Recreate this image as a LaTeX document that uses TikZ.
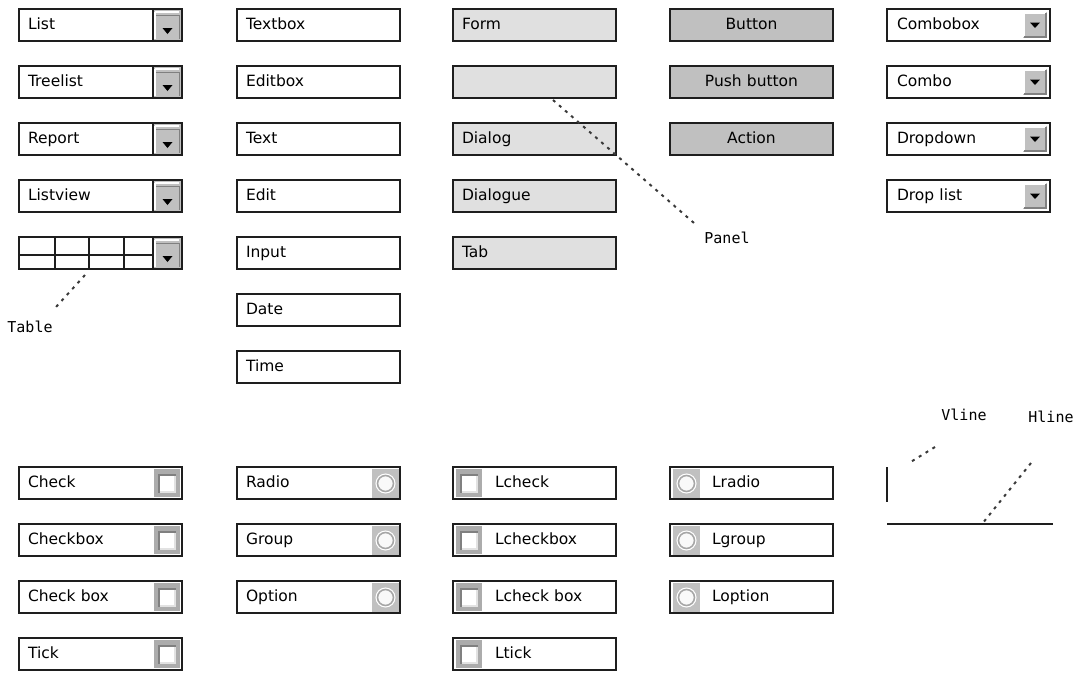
\documentclass[tikz,border=0pt]{standalone}
\usepackage{fontspec}
\setmainfont{DejaVu Sans}
\newfontfamily\lblfont{DejaVu Sans Mono}
\usetikzlibrary{calc}
\definecolor{bordc}{HTML}{1E1E1E}
\definecolor{formgray}{HTML}{E0E0E0}
\definecolor{btngray}{HTML}{C0C0C0}
\definecolor{iconouter}{HTML}{ACACAC}
\definecolor{icondark}{HTML}{808080}
\definecolor{iconlight}{HTML}{E2E2E2}
\definecolor{dashc}{HTML}{3A3A3A}
\tikzset{
  box/.style={rectangle, draw=bordc, line width=1.6pt, fill=white,
    minimum width=163pt, minimum height=32pt, anchor=north west, outer sep=0pt,
    inner xsep=9pt, inner ysep=0pt, text width=145pt, align=left,
    font=\fontsize{15.5}{18}\selectfont, text height=11pt, text depth=3pt},
  lbox/.style={box, execute at begin node={\hspace*{33pt}}},
  formbox/.style={box, fill=formgray},
  btnbox/.style={box, fill=btngray, align=center},
  lbl/.style={font=\lblfont\fontsize{15}{18}\selectfont, inner sep=0pt},
  dashline/.style={draw=dashc, line width=2pt, dash pattern=on 3pt off 5pt},
  solidline/.style={draw=bordc, line width=1.6pt},
}
\newcommand\ddbtn[1]{%
  \fill[btngray] ($(#1.north east)+(-29,0)$) rectangle (#1.south east);
  \draw[white, line width=1.2pt] ($(#1.north east)+(-27,3)$) -- ($(#1.north east)+(-3,3)$);
  \draw[white, line width=1.2pt] ($(#1.north east)+(-27,3)$) -- ($(#1.south east)+(-27,-2)$);
  \draw[gray, line width=1pt] ($(#1.north east)+(-26,6)$) -- ($(#1.north east)+(-3,6)$);
  \draw[gray, line width=1pt] ($(#1.north east)+(-3,6)$) -- ($(#1.south east)+(-3,-2)$);
  \draw[bordc, line width=1.6pt] ($(#1.north east)+(-29,0)$) -- ($(#1.south east)+(-29,0)$);
  \fill[black] ($(#1.north east)+(-19.5,19)$) -- ($(#1.north east)+(-9.5,19)$) -- ($(#1.north east)+(-14.5,25)$) -- cycle;
  \draw[solidline] (#1.north west) rectangle (#1.south east);
}
\newcommand\cbbtn[1]{%
  \fill[btngray] ($(#1.north east)+(-27,3)$) rectangle ($(#1.south east)+(-3,-3)$);
  \draw[white, line width=1.2pt] ($(#1.south east)+(-26,-4)$) -- ($(#1.north east)+(-26,4)$) -- ($(#1.north east)+(-4,4)$);
  \draw[gray, line width=1.2pt] ($(#1.north east)+(-4,4)$) -- ($(#1.south east)+(-4,-4)$) -- ($(#1.south east)+(-26,-4)$);
  \fill[black] ($(#1.north east)+(-20,13.5)$) -- ($(#1.north east)+(-10,13.5)$) -- ($(#1.north east)+(-15,19)$) -- cycle;
}
\newcommand\chkicon[1]{%
  \begin{scope}[shift={#1}]
    \fill[iconouter] (0,0) rectangle (26,28);
    \fill[icondark] (4,5) rectangle (22,24);
    \fill[iconlight] (6,7) rectangle (22,24);
    \fill[white] (6,7) rectangle (20,22);
  \end{scope}}
\newcommand\radicon[1]{%
  \begin{scope}[shift={#1}]
    \fill[btngray] (0,0) rectangle (27,29);
    \fill[white!95!gray] (13.5,14.5) circle (8.5);
    \draw[gray!70, line width=1.6pt] (13.5,14.5) circle (8);
    \draw[white, line width=1pt] (13.5,14.5) circle (9.5);
  \end{scope}}
\begin{document}
\begin{tikzpicture}[x=1pt,y=-1pt]
\useasboundingbox (0,0) rectangle (1080,673);
% column 1: dropdown lists
\foreach \t [count=\i from 0] in {List,Treelist,Report,Listview} {
  \node[box] (dd\i) at (19,{9+57*\i}) {\t};
  \ddbtn{dd\i}
}
\node[box] (tbl) at (19,237) {};
\draw[solidline] ($(tbl.north west)+(0,18)$) -- ($(tbl.north east)+(-29,18)$);
\foreach \dx in {36,70,105} {
  \draw[solidline] ($(tbl.north west)+(\dx,0)$) -- ($(tbl.south west)+(\dx,0)$);
}
\ddbtn{tbl}
\node[lbl] (tbllbl) at (30,327) {Table};
\coordinate (tA) at (85,275);
\coordinate (tB) at (56,307);
\draw[dashline] (tA) -- (tB);
% column 2: text boxes
\foreach \t [count=\i from 0] in {Textbox,Editbox,Text,Edit,Input,Date,Time} {
  \node[box] (tx\i) at (237,{9+57*\i}) {\t};
}
% column 3: panels
\node[formbox] (pf0) at (453,9) {Form};
\node[formbox] (pf1) at (453,66) {};
\node[formbox] (pf2) at (453,123) {Dialog};
\node[formbox] (pf3) at (453,180) {Dialogue};
\node[formbox] (pf4) at (453,237) {Tab};
\node[lbl] (panlbl) at (727,238) {Panel};
\coordinate (pA) at (553,100);
\coordinate (pB) at (694,223);
\draw[dashline] (pA) -- (pB);
% column 4: buttons
\node[btnbox] (bt0) at (670,9) {Button};
\node[btnbox] (bt1) at (670,66) {Push button};
\node[btnbox] (bt2) at (670,123) {Action};
% column 5: combo boxes
\foreach \t [count=\i from 0] in {Combobox,Combo,Dropdown,Drop list} {
  \node[box, inner xsep=10pt, text width=143pt] (cb\i) at (887,{9+57*\i}) {\t};
  \cbbtn{cb\i}
}
% bottom: check boxes
\foreach \t [count=\i from 0] in {Check,Checkbox,Check box,Tick} {
  \node[box] (ck\i) at (19,{467+57*\i}) {\t};
  \chkicon{($(ck\i.north east)+(-28,2)$)}
}
\foreach \t [count=\i from 0] in {Radio,Group,Option} {
  \node[box] (rd\i) at (237,{467+57*\i}) {\t};
  \radicon{($(rd\i.north east)+(-28,2)$)}
}
\foreach \t [count=\i from 0] in {Lcheck,Lcheckbox,Lcheck box,Ltick} {
  \node[lbox] (lc\i) at (453,{467+57*\i}) {\t};
  \chkicon{($(lc\i.north west)+(3,2)$)}
}
\foreach \t [count=\i from 0] in {Lradio,Lgroup,Loption} {
  \node[lbox] (lr\i) at (670,{467+57*\i}) {\t};
  \radicon{($(lr\i.north west)+(3,2)$)}
}
% lines
\coordinate (v1) at (887,467);
\coordinate (v2) at (887,502);
\draw[solidline] (v1) -- (v2);
\coordinate (h1) at (887,524);
\coordinate (h2) at (1053,524);
\draw[solidline] (h1) -- (h2);
\node[lbl] (vlbl) at (964,415) {Vline};
\node[lbl] (hlbl) at (1051,417) {Hline};
\coordinate (vA) at (935,447);
\coordinate (vB) at (909,463);
\draw[dashline] (vA) -- (vB);
\coordinate (hA) at (1031,463);
\coordinate (hB) at (982,524);
\draw[dashline] (hA) -- (hB);
\end{tikzpicture}
\end{document}
